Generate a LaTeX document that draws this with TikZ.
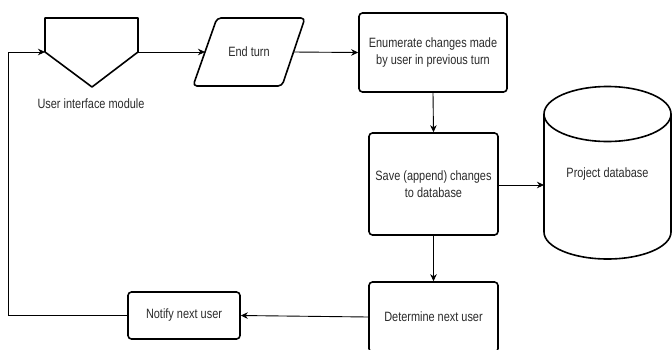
\documentclass[tikz,border=0pt]{standalone}
\usepackage{fontspec}
\setmainfont{Liberation Sans}[FakeStretch=0.81]
\usetikzlibrary{arrows.meta}
\definecolor{txt}{HTML}{2B2B2B}
\tikzset{
  box/.style={draw=black, line width=1.6pt, rounded corners=3.5pt, fill=white,
    align=center, text=txt, font=\fontsize{13.5}{17.5}\selectfont, inner sep=0pt},
  shapeline/.style={draw=black, line width=1.6pt, line join=round},
  label/.style={text=txt, font=\fontsize{13.5}{17.5}\selectfont, align=center, inner sep=0pt},
  flow/.style={draw=black, line width=0.9pt, -{Stealth[length=7pt,width=6.5pt,inset=2.2pt]}},
  plain/.style={draw=black, line width=0.9pt}
}
\begin{document}
\begin{tikzpicture}[x=1pt,y=-1pt]
\useasboundingbox (0,0) rectangle (672,349);
\clip (0,0) rectangle (672,349);

% user interface module: off-page connector shape
\draw[shapeline] (45,18) -- (138,18) -- (138,52) -- (92,87) -- (45,52) -- cycle;
\coordinate (uimL) at (45,52);
\coordinate (uimR) at (138,52);
\node[label] (uimtext) at (91,104) {User interface module};

% end turn: parallelogram
\draw[shapeline, rounded corners=4pt] (217,18) -- (305,18) -- (282,86) -- (193,86) -- cycle;
\node[label] (endturn) at (249,52) {End turn};
\coordinate (etL) at (205,52);
\coordinate (etR) at (293.5,52);

% process steps
\node[box, minimum width=148pt, minimum height=79pt] (enum) at (433,52.5)
  {Enumerate changes made\\by user in previous turn};
\node[box, minimum width=129pt, minimum height=102pt] (save) at (433.5,184)
  {Save (append) changes\\to database};
\node[box, minimum width=129pt, minimum height=70pt] (det) at (433.5,317)
  {Determine next user};
\node[box, minimum width=112pt, minimum height=47pt] (notify) at (184,315.5)
  {Notify next user};

% project database: cylinder
\draw[shapeline] (544,114) -- (544,232) arc[start angle=180, end angle=0, x radius=63.5, y radius=27] -- (671,114);
\draw[shapeline] (607.5,114) ellipse [x radius=63.5, y radius=27.5];
\node[label] (db) at (607.5,174) {Project database};
\coordinate (dbL) at (544,185);

% connectors
\coordinate (loopB) at (8,315.5);
\draw[flow] (uimR) -- (etL);
\draw[flow] (etR) -- (enum.west);
\draw[flow] (enum.south) -- (save.north);
\draw[flow] (save.east |- dbL) -- (dbL);
\draw[flow] (save.south) -- (det.north);
\draw[flow] (det.west) -- (notify.east);
\draw[flow] (notify.west) -- (loopB) |- (uimL);
\end{tikzpicture}
\end{document}
